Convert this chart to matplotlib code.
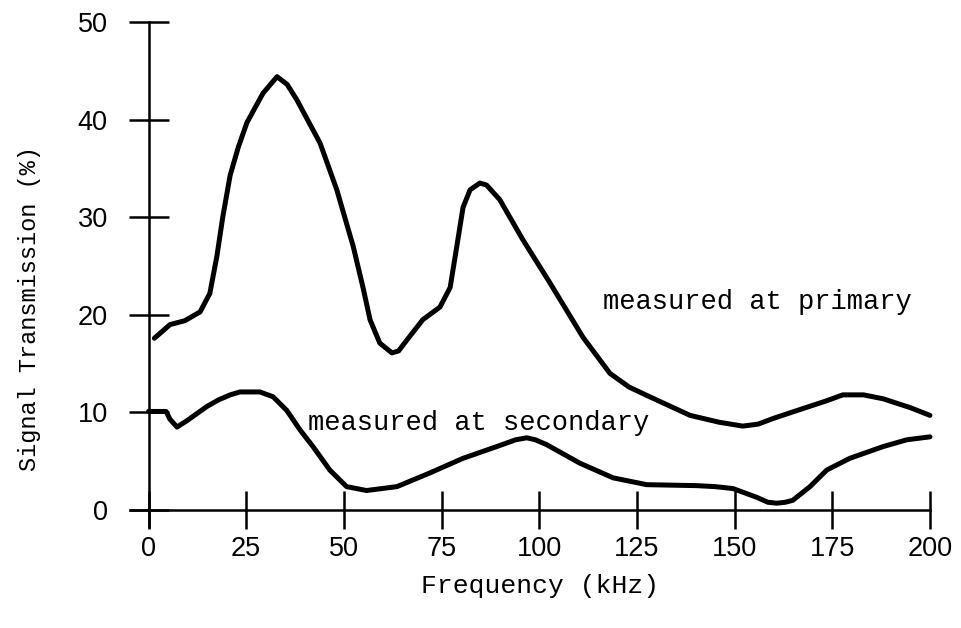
import matplotlib
matplotlib.use("Agg")
import matplotlib.pyplot as plt

# curve, kHz vs %
primary_khz = [1.5, 5.5, 9.3, 13.2, 15.7, 17.5, 19.0, 20.9, 23.0, 25.2, 29.3, 32.9, 35.5, 38.0,
               43.9, 48.2, 52.4, 54.9, 56.7, 59.2, 62.3, 64.0, 66.1, 70.2, 74.6, 77.2, 78.9,
               80.5, 82.3, 84.8, 86.5, 89.9, 95.8, 102.7, 111.2, 118.1, 123.0, 128.3, 138.6,
               146.0, 152.1, 156.0, 160.0, 166.0, 173.6, 177.7, 183.0, 188.0, 194.9, 200.0]
primary_pct = [17.6, 19.0, 19.4, 20.3, 22.2, 26.0, 30.0, 34.3, 37.2, 39.7, 42.7, 44.4, 43.6, 42.0,
               37.6, 32.8, 27.0, 22.8, 19.5, 17.1, 16.1, 16.3, 17.4, 19.5, 20.8, 22.8, 27.0,
               31.0, 32.8, 33.5, 33.3, 31.8, 27.7, 23.3, 17.7, 14.0, 12.6, 11.6, 9.7,
               9.0, 8.6, 8.8, 9.4, 10.2, 11.2, 11.8, 11.8, 11.4, 10.5, 9.7]

secondary_khz = [0.0, 4.5, 5.5, 7.3, 10.0, 14.9, 18.0, 20.9, 23.4, 28.5, 31.9, 35.4, 38.8, 42.1, 46.4,
                 50.7, 55.8, 63.6, 72.0, 80.5, 89.1, 94.0, 96.8, 99.0, 101.9, 110.4, 118.9,
                 127.5, 140.3, 145.0, 149.6, 155.7, 158.5, 160.8, 163.0, 164.9, 169.3, 173.6,
                 179.5, 188.0, 194.1, 200.0]
secondary_pct = [10.1, 10.1, 9.3, 8.5, 9.2, 10.6, 11.3, 11.8, 12.1, 12.1, 11.6, 10.2, 8.2, 6.5, 4.1,
                 2.4, 2.0, 2.4, 3.8, 5.3, 6.5, 7.2, 7.4, 7.2, 6.7, 4.8, 3.3,
                 2.6, 2.5, 2.4, 2.2, 1.3, 0.8, 0.7, 0.8, 1.0, 2.4, 4.1,
                 5.3, 6.5, 7.2, 7.5]

x_ticks = [0, 25, 50, 75, 100, 125, 150, 175, 200]
y_ticks = [0, 10, 20, 30, 40, 50]

label_primary = "measured at primary"
label_secondary = "measured at secondary"

mono = "Liberation Mono"
sans = "Liberation Sans"

fig = plt.figure(figsize=(9.62, 6.28), dpi=100)
ax = fig.add_axes([0.1300, 0.1412, 0.8448, 0.8393])
ax.set_xlim(-6, 202)
ax.set_ylim(-3, 51)

line_kw = dict(color="black", lw=3.6, solid_capstyle="round", solid_joinstyle="round")
ax.plot(primary_khz, primary_pct, **line_kw)
ax.plot(secondary_khz, secondary_pct, **line_kw)

ax.text(116.3, 21.3, label_primary, ha="left", va="center", fontsize=19.5, family=mono)
ax.text(40.8, 8.9, label_secondary, ha="left", va="center", fontsize=19.5, family=mono)

for side in ("top", "right"):
    ax.spines[side].set_visible(False)
ax.spines["left"].set_position(("data", 0))
ax.spines["left"].set_bounds(-1.7, 50)
ax.spines["bottom"].set_position(("data", 0))
ax.spines["bottom"].set_bounds(-4.7, 200)
for side in ("left", "bottom"):
    ax.spines[side].set_linewidth(1.8)

ax.set_xticks(x_ticks)
ax.set_yticks(y_ticks)
ax.tick_params(axis="y", direction="inout", length=28.8, width=1.8, pad=15, labelsize=19.5)
ax.tick_params(axis="x", direction="inout", length=27, width=1.8, pad=5, labelsize=19.5)
for lbl in ax.get_xticklabels() + ax.get_yticklabels():
    lbl.set_family(sans)

ax.set_xlabel("Frequency (kHz)", fontsize=19, family=mono, va="center")
ax.xaxis.set_label_coords(0.5105, -0.0886)
ax.set_ylabel("Signal Transmission (%)", fontsize=17, family=mono, va="center")
ax.yaxis.set_label_coords(-0.117, 0.437)

fig.savefig("out.png", dpi=100)
